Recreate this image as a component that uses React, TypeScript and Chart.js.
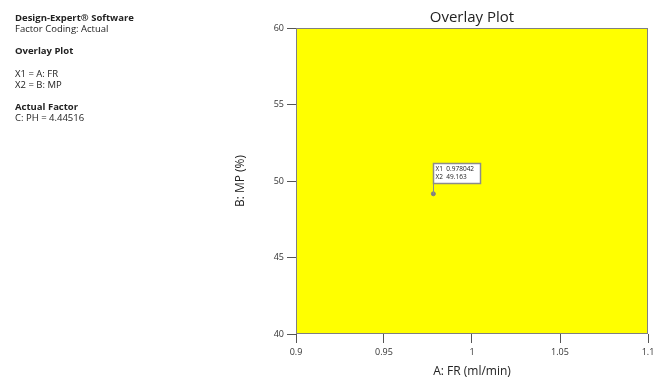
import React, { useEffect, useRef } from "react";
import { Chart, registerables } from "chart.js";

Chart.register(...registerables);

const chartTitle = "Overlay Plot";
const xAxisTitle = "A: FR (ml/min)";
const yAxisTitle = "B: MP (%)";
const xTicks = [0.9, 0.95, 1, 1.05, 1.1];
const yTicks = [40, 45, 50, 55, 60];
const xRange = [0.9, 1.1];
const yRange = [40, 60];
const flagX = [0.978042];
const flagY = [49.163];
const flagLabels = ["X1", "X2"];

const infoLines: { text: string; bold: boolean; gap: number }[] = [
  { text: "Design-Expert® Software", bold: true, gap: 0 },
  { text: "Factor Coding: Actual", bold: false, gap: 0 },
  { text: "Overlay Plot", bold: true, gap: 11 },
  { text: "X1 = A: FR", bold: false, gap: 12 },
  { text: "X2 = B: MP", bold: false, gap: 0 },
  { text: "Actual Factor", bold: true, gap: 11 },
  { text: "C: PH = 4.44516", bold: false, gap: 0 },
];

const FONT = "'Open Sans', 'Noto Sans', sans-serif";

const decorPlugin = {
  id: "decor",
  beforeDraw(chart: any) {
    const { ctx, chartArea } = chart;
    ctx.save();
    ctx.fillStyle = "#ffffff";
    ctx.fillRect(0, 0, chart.width, chart.height);
    ctx.fillStyle = "#ffff00";
    ctx.fillRect(chartArea.left, chartArea.top, chartArea.right - chartArea.left, chartArea.bottom - chartArea.top);
    ctx.restore();
  },
  afterDraw(chart: any) {
    const { ctx, chartArea, scales } = chart;
    ctx.save();
    ctx.strokeStyle = "#808080";
    ctx.lineWidth = 1;
    ctx.strokeRect(chartArea.left + 0.5, chartArea.top + 0.5, chartArea.right - chartArea.left - 1, chartArea.bottom - chartArea.top - 1);
    ctx.fillStyle = "#222222";
    ctx.font = `15px ${FONT}`;
    ctx.textAlign = "center";
    ctx.textBaseline = "middle";
    ctx.fillText(chartTitle, (chartArea.left + chartArea.right) / 2, 17.5);
    const px = scales.x.getPixelForValue(flagX[0]);
    const py = scales.y.getPixelForValue(flagY[0]);
    const boxL = Math.round(px) + 0.5;
    const boxB = Math.round(py) - 11 + 0.5;
    const boxT = boxB - 20;
    const boxW = 47;
    ctx.strokeStyle = "#8c8c8c";
    ctx.lineWidth = 1;
    ctx.beginPath();
    ctx.moveTo(boxL, boxB);
    ctx.lineTo(boxL, Math.round(py));
    ctx.stroke();
    ctx.fillStyle = "#ffffff";
    ctx.fillRect(boxL, boxT, boxW, 20);
    ctx.lineWidth = 1.5;
    ctx.strokeRect(boxL, boxT, boxW, 20);
    ctx.fillStyle = "#222222";
    ctx.font = `6.5px ${FONT}`;
    ctx.textAlign = "left";
    ctx.textBaseline = "middle";
    ctx.fillText(`${flagLabels[0]}  ${flagX[0]}`, boxL + 2, boxT + 6);
    ctx.fillText(`${flagLabels[1]}  ${flagY[0]}`, boxL + 2, boxT + 14);
    ctx.restore();
  },
};

export default function App() {
  const ref = useRef<HTMLCanvasElement | null>(null);
  useEffect(() => {
    if (!ref.current) return;
    const chart = new Chart(ref.current, {
      type: "scatter",
      data: {
        datasets: [
          {
            data: flagX.map((x, i) => ({ x, y: flagY[i] })),
            pointRadius: 2,
            pointBackgroundColor: "#808080",
            pointBorderColor: "#808080",
          },
        ],
      },
      options: {
        responsive: false,
        animation: false,
        layout: { padding: { top: 28, left: 230, right: 7, bottom: 0 } },
        plugins: { legend: { display: false }, tooltip: { enabled: false }, title: { display: false } },
        scales: {
          x: {
            type: "linear",
            min: xRange[0],
            max: xRange[1],
            afterBuildTicks: (s: any) => { s.ticks = xTicks.map((v) => ({ value: v })); },
            afterFit: (s: any) => { s.height = 45; s.paddingLeft = 0; s.paddingRight = 0; },
            grid: { drawOnChartArea: false, tickLength: 9, color: "#555555", tickWidth: 1 },
            border: { display: false },
            ticks: {
              color: "#333333",
              font: { family: FONT, size: 9 },
              padding: 4,
              maxRotation: 0,
              callback: (v: any) => String(Number(v.toFixed ? v.toFixed(2) : v)),
            },
            title: { display: true, text: xAxisTitle, color: "#222222", font: { family: FONT, size: 12 }, padding: { top: 6, bottom: 0 } },
          },
          y: {
            type: "linear",
            min: yRange[0],
            max: yRange[1],
            afterBuildTicks: (s: any) => { s.ticks = yTicks.map((v) => ({ value: v })); },
            afterFit: (s: any) => { s.width = 66; s.paddingTop = 0; s.paddingBottom = 0; },
            grid: { drawOnChartArea: false, tickLength: 9, color: "#555555", tickWidth: 1 },
            border: { display: false },
            ticks: { color: "#333333", font: { family: FONT, size: 9 }, padding: 3 },
            title: { display: true, text: yAxisTitle, color: "#222222", font: { family: FONT, size: 12 }, padding: { top: 3, bottom: 0 } },
          },
        },
      },
      plugins: [decorPlugin],
    });
    return () => chart.destroy();
  }, []);

  return (
    <div style={{ position: "absolute", left: 0, top: 0, width: 655, height: 379, background: "#fff" }}>
      <canvas ref={ref} width={655} height={379} style={{ position: "absolute", left: 0, top: 0 }} />
      <div style={{ position: "absolute", left: 15, top: 12, fontFamily: FONT, fontSize: 9.5, lineHeight: "11px", color: "#222" }}>
        {infoLines.map((l, i) => (
          <div key={i} style={{ fontWeight: l.bold ? 700 : 400, marginTop: l.gap }}>{l.text}</div>
        ))}
      </div>
    </div>
  );
}
